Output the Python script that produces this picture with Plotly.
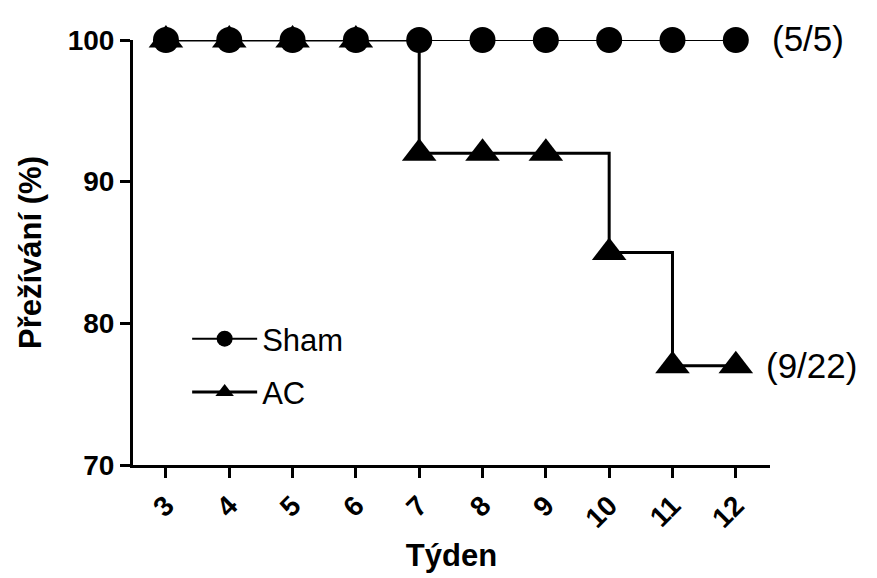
import plotly.graph_objects as go

weeks = [3, 4, 5, 6, 7, 8, 9, 10, 11, 12]
sham = [100, 100, 100, 100, 100, 100, 100, 100, 100, 100]
ac = [100, 100, 100, 100, 92, 92, 92, 85, 77, 77]
tick_labels = [str(w) for w in weeks]
y_ticks = [70, 80, 90, 100]

FONT = "Arial, Liberation Sans, sans-serif"

fig = go.Figure()
fig.add_trace(go.Scatter(
    x=weeks, y=ac, name="AC", mode="lines+markers",
    line=dict(shape="hv", color="black", width=3),
    marker=dict(symbol="triangle-up", size=30, color="black"),
    cliponaxis=False, legendrank=2, legendgroup="b",
))
fig.add_trace(go.Scatter(
    x=weeks, y=sham, name="Sham", mode="lines+markers",
    line=dict(color="black", width=2),
    marker=dict(symbol="circle", size=26, color="black"),
    cliponaxis=False, legendrank=1, legendgroup="a",
))

fig.add_annotation(x=1.0, y=100, xref="paper", yref="y", text="(5/5)",
                   showarrow=False, xanchor="left", xshift=0, yshift=2,
                   font=dict(family=FONT, size=35, color="black"))
fig.add_annotation(x=1.0, y=77, xref="paper", yref="y", text="(9/22)",
                   showarrow=False, xanchor="left", xshift=-6,
                   font=dict(family=FONT, size=35, color="black"))

fig.update_layout(
    width=877, height=578,
    margin=dict(l=133, r=107, t=40, b=113),
    plot_bgcolor="white", paper_bgcolor="white",
    font=dict(family=FONT, color="black"),
    showlegend=True,
    legend=dict(x=0.085, y=0.36, xanchor="left", yanchor="top",
                bgcolor="rgba(0,0,0,0)", font=dict(family=FONT, size=31),
                itemwidth=65, tracegroupgap=10),
    xaxis=dict(
        range=[2.48, 12.54], tickvals=weeks, ticktext=tick_labels,
        tickangle=-45, ticks="outside", ticklen=10, tickwidth=3,
        tickcolor="black", showline=True, linewidth=3, linecolor="black",
        showgrid=False, zeroline=False,
        tickfont=dict(family=FONT, size=28, weight="bold"),
        title=dict(text="Týden", font=dict(family=FONT, size=31, weight="bold"),
                   standoff=12),
    ),
    yaxis=dict(
        range=[70, 100], tickvals=y_ticks, ticks="outside", ticklen=10,
        tickwidth=3, tickcolor="black", showline=True, linewidth=3,
        linecolor="black", showgrid=False, zeroline=False,
        tickfont=dict(family=FONT, size=28, weight="bold"),
        title=dict(text="Přežívání (%)", font=dict(family=FONT, size=31, weight="bold"),
                   standoff=17),
    ),
)

fig.write_html("out.html")
